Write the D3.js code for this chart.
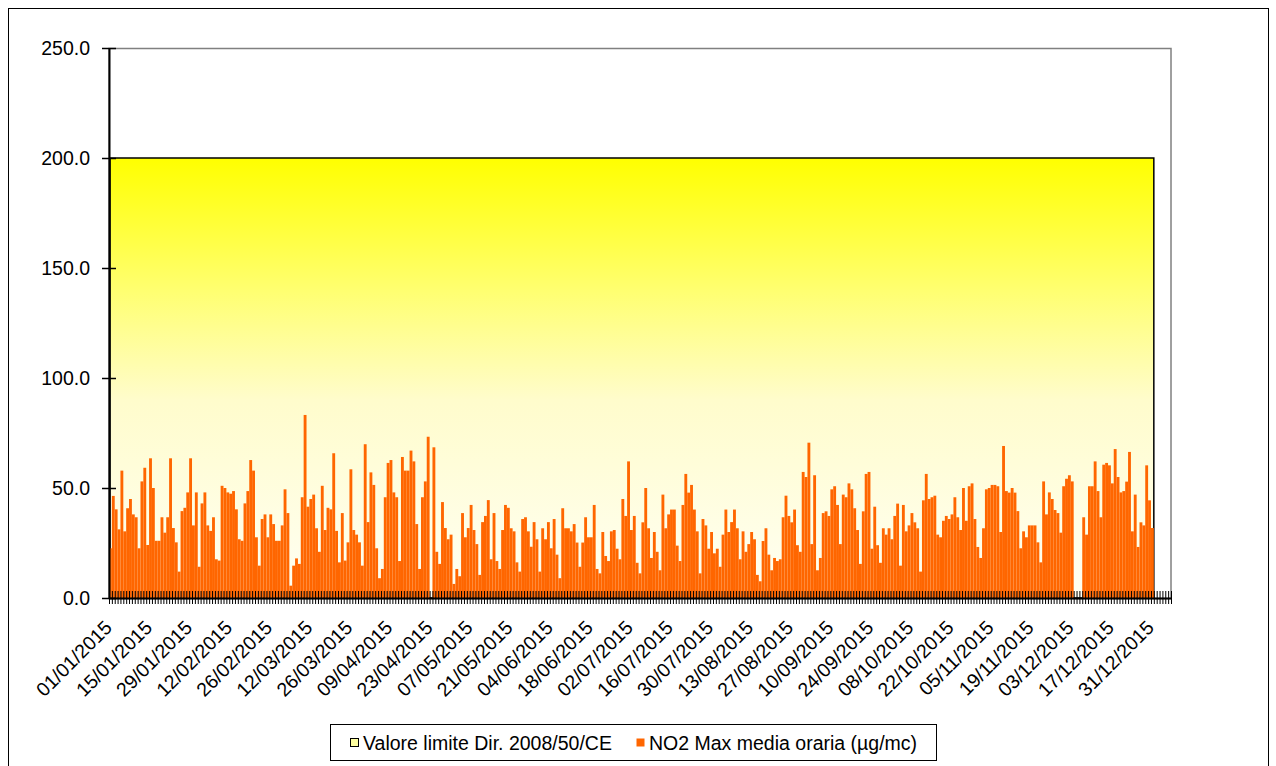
<!DOCTYPE html>
<html>
<head>
<meta charset="utf-8">
<script src="https://cdn.jsdelivr.net/npm/d3@7"></script>
<style>
body { margin: 0; background: #fff; }
text { font-family: Arial, "Liberation Sans", sans-serif; fill: #000; }
</style>
</head>
<body>
<svg width="1276" height="766"></svg>
<script>
// NO2 max hourly mean, one value per day of 2015 (null = no data)
const no2 = [
 22.6, 46.4, 40.3, 31.2, 57.9, 30.3, 40.8, 45, 38, 36.7, 22.6, 53, 59.2, 24.1, 63.5, 50, 26, 26, 36.7, 29.7, 36.7, 63.5, 31.8, 25.3, 12, 39.5, 41, 48, 63.5, 33, 48, 14.2, 43, 48, 33, 30.5, 36.7, 17.6, 17, 51, 50, 48, 47.4, 48.6,
 40.3, 26.7, 26, 43, 48.6, 62.7, 57.9, 27.6, 14.7, 35.9, 38, 27.6, 38, 33.6, 26, 26, 33, 49.4, 38.6, 5.6, 14.7, 18, 15.5, 45.8, 83.2, 41.5, 45, 47, 31.7, 21, 51, 30.9, 41, 40.3, 65.8, 30.5, 16.2, 38.6, 17, 25.3, 58.5, 30.9, 28.8, 25.3, 14.7, 69.9,
 34.5, 57.1, 51.4, 22.6, 9, 13.2, 45.8, 61.4, 62.7, 48, 45.8, 16.8, 64.1, 57.9, 57.9, 67, 62.1, 33.6, 13.2, 45.8, 53, 73.3, null, 68.5, 21, 15.5, 43.6, 31.8, 26.7, 28.8, 6.4, 13.2, 9.9, 38.6, 27.6, 31.8, 42.3, 30.9, 24.5, 10.5, 34.5, 37.3, 44.5, 17.6, 38.6,
 16.8, 13.2, 30.9, 42.3, 41, 31.7, 30.3, 16.2, 12, 35.9, 36.7, 30.3, 23.3, 34.5, 26.7, 12, 31.7, 26.7, 34.5, 22.6, 35.9, 19.7, 9, 40.8, 31.7, 31.7, 30.3, 33.6, 25.2, 14.2, 25.2, 36.7, 27.6, 27.6, 42.3, 13.2, 11.2, 30, 19.1, 16.8, 30.3, 30.9, 22.4, 17.6, 45, 37.3,
 62.1, 30.9, 37.3, 16, 11.2, 34.4, 50, 31.7, 18.2, 30, 21, 12.6, 47, 31.7, 38, 40.2, 40.2, 23.8, 16.8, 42.3, 56.4, 47.9, 51.4, 40.2, 30.3, 11.2, 35.9, 33, 22.4, 30, 20.3, 22.4, 14.2, 28.8, 40.2, 30, 34.5, 40.2, 31.7, 17.6, 30.3, 21, 24.5, 30, 26.7, 10.5,
 7.6, 25.9, 31.7, 19.7, 12.6, 18.2, 16.8, 17.6, 36.7, 46.5, 37.3, 34.4, 40.2, 24, 21, 57.3, 55, 70.6, 24.5, 55.8, 12.6, 18.2, 38.6, 39.4, 37.3, 49.4, 50.8, 42.3, 24.5, 47, 45.8, 52.1, 49.4, 40.8, 30.9, 15.5, 39.4, 56.4, 57.3, 22.4, 41.5, 24, 16, 31.7, 28.8,
 31.7, 26.7, 37.3, 42.9, 14.7, 42.3, 30.3, 33, 38.6, 34.4, 31.7, 12, 44.4, 56.4, 45, 45.8, 46.5, 28.8, 27.6, 35.1, 37.3, 35.9, 38, 45.8, 36.7, 30.9, 50, 35.1, 50.8, 52.1, 35.9, 23.2, 18.2, 31.7, 49.4, 50, 51.4, 51.4, 50.8, 30, 69.1, 48.6, 47.9, 50, 47.9,
 39.5, 22.6, 30.3, 27.6, 33, 33, 33, 25.3, 16.2, 53, 38, 48, 45, 40, 38.6, 29.7, 50.8, 54.2, 55.8, 53, null, null, null, 36.7, 28.8, 50.8, 50.8, 62.1, 48.6, 36.7, 60.6, 61.4, 60.3, 52.1, 67.7, 55, 48, 48.6, 52.9, 66.4, 30.3, 47, 23.2, 34.4, 33, 60.3, 44.4, 31.8
];

// limit value Dir. 2008/50/CE
const limitValue = no2.map(() => 200);

const tickLabels = ["01/01/2015", "15/01/2015", "29/01/2015", "12/02/2015", "26/02/2015", "12/03/2015",
  "26/03/2015", "09/04/2015", "23/04/2015", "07/05/2015", "21/05/2015", "04/06/2015", "18/06/2015",
  "02/07/2015", "16/07/2015", "30/07/2015", "13/08/2015", "27/08/2015", "10/09/2015", "24/09/2015",
  "08/10/2015", "22/10/2015", "05/11/2015", "19/11/2015", "03/12/2015", "17/12/2015", "31/12/2015"];
const labelStep = 14;

const yTicks = [0, 50, 100, 150, 200, 250];
const legendNames = ["Valore limite Dir. 2008/50/CE", "NO2 Max media oraria (\u00b5g/mc)"];

const svg = d3.select("svg");

const LEFT = 109, RIGHT = 1171, TOP = 48, BOTTOM = 598;
const N_SLOTS = 371;   // category slots on the axis (a few empty ones after 31/12)
const FONT = 19.5;

const x = d3.scaleBand().domain(d3.range(N_SLOTS)).range([LEFT, RIGHT]).padding(0);
const xEdge = d3.scaleLinear().domain([0, N_SLOTS]).range([LEFT, RIGHT]);
const xArea = d3.scaleLinear().domain([0, no2.length - 1]).range([LEFT + 1, xEdge(no2.length)]);
const y = d3.scaleLinear().domain([0, 250]).range([BOTTOM, TOP]);

// outer frame
svg.append("rect")
    .attr("x", 8.5).attr("y", 8.5)
    .attr("width", 1260).attr("height", 800)
    .attr("fill", "none").attr("stroke", "#000").attr("stroke-width", 1);

// gradient for the limit area
const defs = svg.append("defs");
const grad = defs.append("linearGradient")
    .attr("id", "yellowGrad")
    .attr("x1", 0).attr("y1", 0).attr("x2", 0).attr("y2", 1);
grad.append("stop").attr("offset", "0%").attr("stop-color", "#ffff00");
grad.append("stop").attr("offset", "30%").attr("stop-color", "#ffff70");
grad.append("stop").attr("offset", "55%").attr("stop-color", "#fffccc");
grad.append("stop").attr("offset", "100%").attr("stop-color", "#fffff4");

// plot area border
svg.append("rect")
    .attr("x", LEFT).attr("y", TOP + 0.5)
    .attr("width", RIGHT - LEFT).attr("height", BOTTOM - TOP)
    .attr("fill", "#fff").attr("stroke", "#808080").attr("stroke-width", 1.5);

// limit area
const area = d3.area()
    .x((d, i) => xArea(i))
    .y0(y(0))
    .y1(d => y(d));

svg.append("path")
    .datum(limitValue)
    .attr("d", area)
    .attr("fill", "url(#yellowGrad)")
    .attr("stroke", "#000")
    .attr("stroke-width", 1.5);

// bars
svg.append("g")
    .selectAll("rect")
    .data(no2.map((v, i) => ({i: i, v: v})).filter(d => d.v !== null))
    .enter().append("rect")
    .attr("x", d => x(d.i))
    .attr("width", x.bandwidth())
    .attr("y", d => y(d.v))
    .attr("height", d => y(0) - y(d.v))
    .attr("fill", "#ff6600");

// y axis
const yAxis = svg.append("g")
    .attr("transform", `translate(${LEFT},0)`)
    .call(d3.axisLeft(y).tickValues(yTicks).tickFormat(d3.format(".1f")).tickSizeInner(7).tickSizeOuter(0).tickPadding(12));
yAxis.select(".domain").attr("stroke", "#000").attr("stroke-width", 2);
yAxis.selectAll(".tick line").attr("x1", 7).attr("x2", -7).attr("stroke", "#000").attr("stroke-width", 1.5);
yAxis.selectAll(".tick text").attr("font-size", FONT).attr("font-family", "Arial, 'Liberation Sans', sans-serif");

// x axis with a tick on every category boundary
const xAxis = svg.append("g")
    .attr("transform", `translate(0,${BOTTOM})`)
    .call(d3.axisBottom(xEdge).tickValues(d3.range(N_SLOTS + 1)).tickFormat("").tickSizeInner(6).tickSizeOuter(0));
xAxis.select(".domain").attr("stroke", "#000").attr("stroke-width", 2);
xAxis.selectAll(".tick line").attr("y1", -7).attr("y2", 6).attr("stroke", "#000").attr("stroke-width", 1);

// date labels, rotated
svg.append("g")
    .selectAll("text")
    .data(tickLabels)
    .enter().append("text")
    .attr("transform", (d, k) => `translate(${x(k * labelStep) + x.bandwidth() / 2 - 7},${619}) rotate(-45)`)
    .attr("text-anchor", "end")
    .attr("dy", "0.71em")
    .attr("font-size", FONT)
    .text(d => d);

// legend
const legend = svg.append("g");
legend.append("rect")
    .attr("x", 330.5).attr("y", 724.5)
    .attr("width", 606).attr("height", 36)
    .attr("fill", "#fff").attr("stroke", "#000").attr("stroke-width", 1);

const legendX = [350, 636];
legend.selectAll("rect.mark")
    .data(legendNames)
    .enter().append("rect")
    .attr("class", "mark")
    .attr("x", (d, i) => legendX[i] + 0.5)
    .attr("y", 738.5)
    .attr("width", 8).attr("height", 8)
    .attr("fill", (d, i) => i === 0 ? "#ffffa0" : "#ff6600")
    .attr("stroke", (d, i) => i === 0 ? "#000" : "none")
    .attr("stroke-width", 1);

legend.selectAll("text")
    .data(legendNames)
    .enter().append("text")
    .attr("x", (d, i) => legendX[i] + 13)
    .attr("y", 749.5)
    .attr("font-size", FONT)
    .text(d => d);
</script>
</body>
</html>
